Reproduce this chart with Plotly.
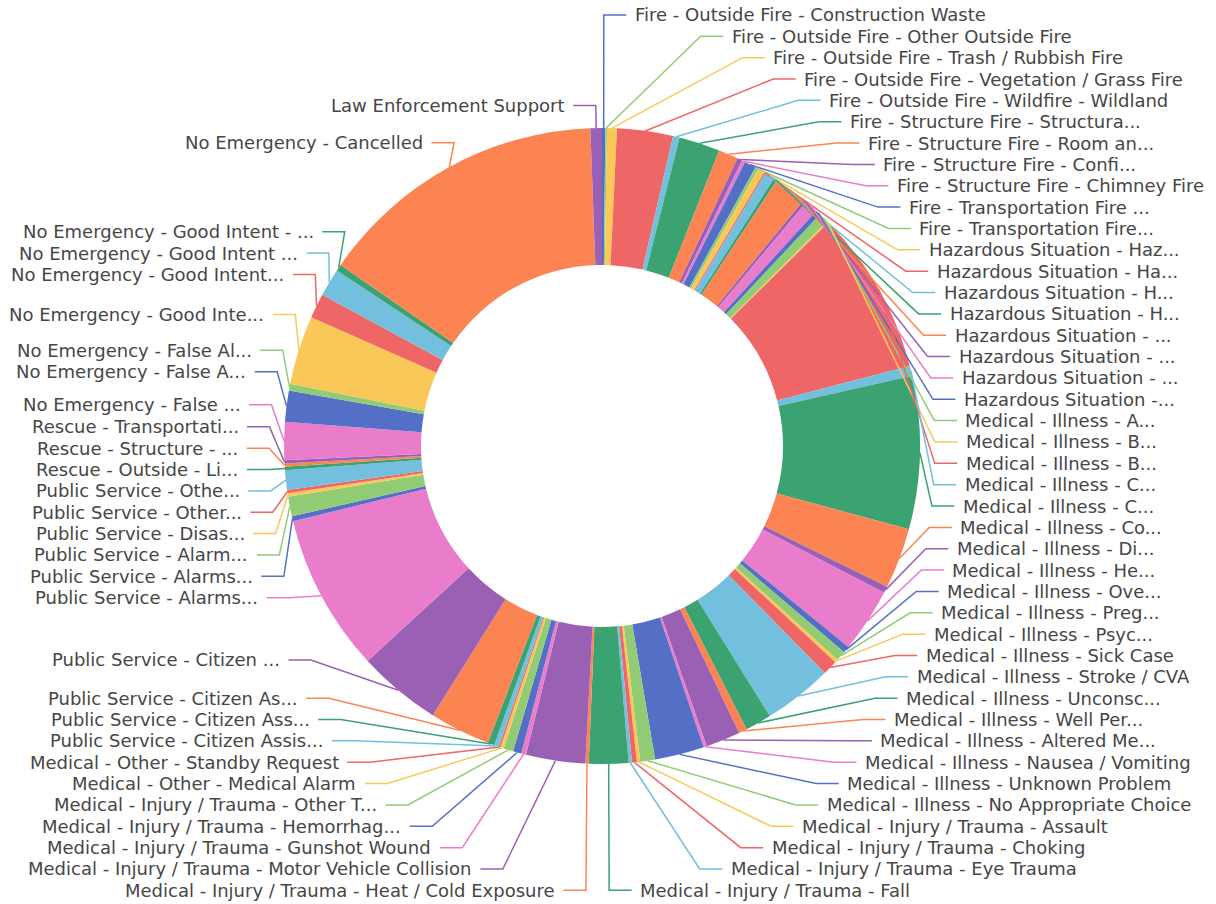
import math
import plotly.graph_objects as go

# ---------------- data (clockwise from 12 o'clock) ----------------
categories = [
    "Fire - Outside Fire - Construction Waste",
    "Fire - Outside Fire - Other Outside Fire",
    "Fire - Outside Fire - Trash / Rubbish Fire",
    "Fire - Outside Fire - Vegetation / Grass Fire",
    "Fire - Outside Fire - Wildfire - Wildland",
    "Fire - Structure Fire - Structura...",
    "Fire - Structure Fire - Room an...",
    "Fire - Structure Fire - Confi...",
    "Fire - Structure Fire - Chimney Fire",
    "Fire - Transportation Fire ...",
    "Fire - Transportation Fire...",
    "Hazardous Situation - Haz...",
    "Hazardous Situation - Ha...",
    "Hazardous Situation - H...",
    "Hazardous Situation - H...",
    "Hazardous Situation - ...",
    "Hazardous Situation - ...",
    "Hazardous Situation - ...",
    "Hazardous Situation -...",
    "Medical - Illness - A...",
    "Medical - Illness - B...",
    "Medical - Illness - B...",
    "Medical - Illness - C...",
    "Medical - Illness - C...",
    "Medical - Illness - Co...",
    "Medical - Illness - Di...",
    "Medical - Illness - He...",
    "Medical - Illness - Ove...",
    "Medical - Illness - Preg...",
    "Medical - Illness - Psyc...",
    "Medical - Illness - Sick Case",
    "Medical - Illness - Stroke / CVA",
    "Medical - Illness - Unconsc...",
    "Medical - Illness - Well Per...",
    "Medical - Illness - Altered Me...",
    "Medical - Illness - Nausea / Vomiting",
    "Medical - Illness - Unknown Problem",
    "Medical - Illness - No Appropriate Choice",
    "Medical - Injury / Trauma - Assault",
    "Medical - Injury / Trauma - Choking",
    "Medical - Injury / Trauma - Eye Trauma",
    "Medical - Injury / Trauma - Fall",
    "Medical - Injury / Trauma - Heat / Cold Exposure",
    "Medical - Injury / Trauma - Motor Vehicle Collision",
    "Medical - Injury / Trauma - Gunshot Wound",
    "Medical - Injury / Trauma - Hemorrhag...",
    "Medical - Injury / Trauma - Other T...",
    "Medical - Other - Medical Alarm",
    "Medical - Other - Standby Request",
    "Public Service - Citizen Assis...",
    "Public Service - Citizen Ass...",
    "Public Service - Citizen As...",
    "Public Service - Citizen ...",
    "Public Service - Alarms...",
    "Public Service - Alarms...",
    "Public Service - Alarm...",
    "Public Service - Disas...",
    "Public Service - Other...",
    "Public Service - Othe...",
    "Rescue - Outside - Li...",
    "Rescue - Structure - ...",
    "Rescue - Transportati...",
    "No Emergency - False ...",
    "No Emergency - False A...",
    "No Emergency - False Al...",
    "No Emergency - Good Inte...",
    "No Emergency - Good Intent...",
    "No Emergency - Good Intent ...",
    "No Emergency - Good Intent - ...",
    "No Emergency - Cancelled",
    "Law Enforcement Support",
]

counts = [
    2, 1, 6, 34, 4, 25, 12, 3, 2, 7,
    2, 4, 1, 6, 2, 20, 2, 8, 3, 6,
    1, 100, 6, 93, 37, 4, 39, 4, 6, 2,
    9, 42, 16, 5, 21, 2, 30, 9, 2, 3,
    2, 24, 2, 36, 3, 5, 6, 2, 1, 3,
    4, 37, 51, 96, 3, 12, 2, 2, 12, 2,
    2, 2, 23, 19, 4, 42, 15, 17, 4, 177,
    7,
]

palette = ['#5470c6', '#91cc75', '#fac858', '#ee6666', '#73c0de',
           '#3ba272', '#fc8452', '#9a60b4', '#ea7ccc']

# ---------------- geometry / style ----------------
W, H = 1216, 904
CX, CY, R, R_IN = 602, 446, 318, 181
LEN1, LEN2, LABEL_DIST, LABEL_H = 22.5, 22.5, 7.5, 21.35
TOP_BOUND, BOTTOM_BOUND = 4, 901
FONT = dict(family="DejaVu Sans", size=18, color="#464646")

colors = [palette[i % len(palette)] for i in range(len(counts))]

# ---------------- label layout (leader lines) ----------------
total = float(sum(counts))
items = []
acc = 0.0
for i, v in enumerate(counts):
    mid = (acc + v / 2.0) / total * 2 * math.pi
    acc += v
    dx, dy = math.sin(mid), -math.cos(mid)
    x1, y1 = CX + R * dx, CY + R * dy
    x2, y2 = x1 + dx * LEN1, y1 + dy * LEN1
    d = -1 if dx < 0 else 1
    x3 = x2 + d * LEN2
    items.append(dict(i=i, x1=x1, y1=y1, lx=x3 + d * LABEL_DIST, ly=y2,
                      dir=d, ry=y2 - LABEL_H / 2))


def shift_layout(lst, min_bound, max_bound):
    n = len(lst)
    if n < 2:
        return False
    lst.sort(key=lambda it: it['ry'])
    st = {'adj': False}
    last = 0
    for it in lst:
        delta = it['ry'] - last
        if delta < 0:
            it['ry'] -= delta
            it['ly'] -= delta
            st['adj'] = True
        last = it['ry'] + LABEL_H

    def shift_list(delta, s, e):
        if delta != 0:
            st['adj'] = True
        for k in range(s, e):
            lst[k]['ry'] += delta
            lst[k]['ly'] += delta

    def gaps():
        return lst[0]['ry'] - min_bound, max_bound - lst[-1]['ry'] - LABEL_H

    def squeeze(delta, maxp):
        g = [max(lst[k]['ry'] - lst[k - 1]['ry'] - LABEL_H, 0) for k in range(1, n)]
        tg = sum(g)
        if not tg:
            return
        p = min(abs(delta) / tg, maxp)
        if delta > 0:
            for k in range(n - 1):
                shift_list(g[k] * p, 0, k + 1)
        else:
            for k in range(n - 1, 0, -1):
                shift_list(-g[k - 1] * p, k, n)

    def take(this_gap, other_gap, mdir):
        if this_gap < 0:
            mv = min(other_gap, -this_gap)
            if mv > 0:
                shift_list(mv * mdir, 0, n)
                rem = mv + this_gap
                if rem < 0:
                    squeeze(-rem * mdir, 1)
            else:
                squeeze(-this_gap * mdir, 1)

    def bailout(delta):
        dd = -1 if delta < 0 else 1
        delta = abs(delta)
        mv = math.ceil(delta / (n - 1))
        for k in range(n - 1):
            if dd > 0:
                shift_list(mv, 0, k + 1)
            else:
                shift_list(-mv, n - k - 1, n)
            delta -= mv
            if delta <= 0:
                return

    mn, mx = gaps()
    if mn < 0:
        squeeze(-mn, 0.8)
    if mx < 0:
        squeeze(mx, 0.8)
    mn, mx = gaps()
    take(mn, mx, 1)
    take(mx, mn, -1)
    mn, mx = gaps()
    if mn < 0:
        bailout(-mn)
    if mx < 0:
        bailout(mx)
    return st['adj']


def recalc_x(lst):
    rA = R + LEN1
    semis = {'top': dict(lst=[], maxY=0, rB=rA), 'bot': dict(lst=[], maxY=0, rB=rA)}
    for it in lst:
        s = semis['bot'] if it['ly'] > CY else semis['top']
        dyv = abs(it['ly'] - CY)
        if dyv >= s['maxY']:
            dxv = it['lx'] - CX - LEN2 * it['dir']
            s['rB'] = math.sqrt(dyv * dyv / (1 - dxv * dxv / rA / rA)) if abs(dxv) < rA else rA
            s['maxY'] = dyv
        s['lst'].append(it)
    for s in semis.values():
        for it in s['lst']:
            dyv = abs(it['ly'] - CY)
            val = (1 - dyv * dyv / s['rB'] / s['rB']) * rA * rA
            it['lx'] = CX + (math.sqrt(max(val, 0)) + LEN2) * it['dir']


for side in (-1, 1):
    lst = [it for it in items if it['dir'] == side]
    if shift_layout(lst, TOP_BOUND, BOTTOM_BOUND):
        recalc_x(lst)


def px(x):
    return x / W


def py(y):
    return 1 - y / H


# ---------------- figure ----------------
fig = go.Figure()
fig.add_trace(go.Pie(
    values=counts,
    labels=[str(i) for i in range(len(counts))],
    hovertext=categories,
    hoverinfo="text+value+percent",
    marker=dict(colors=colors, line=dict(width=0)),
    hole=R_IN / R,
    sort=False,
    direction="clockwise",
    rotation=0,
    textinfo="none",
    showlegend=False,
    domain=dict(x=[(CX - R) / W, (CX + R) / W],
                y=[1 - (CY + R) / H, 1 - (CY - R) / H]),
))

shapes = []
annotations = []
for it in sorted(items, key=lambda t: t['i']):
    d = it['dir']
    x3 = it['lx'] - d * LABEL_DIST
    x2 = x3 - d * LEN2
    y = it['ly']
    path = "M {:.5f} {:.5f} L {:.5f} {:.5f} L {:.5f} {:.5f}".format(
        px(it['x1']), py(it['y1']), px(x2), py(y), px(x3), py(y))
    shapes.append(dict(type="path", path=path, xref="paper", yref="paper",
                       line=dict(color=colors[it['i']], width=1.5), layer="above"))
    annotations.append(dict(
        x=px(it['lx']), y=py(y), xref="paper", yref="paper",
        text=categories[it['i']], showarrow=False,
        xanchor="left" if d > 0 else "right", yanchor="middle",
        font=FONT, borderpad=0,
    ))

fig.update_layout(
    width=W, height=H, autosize=False,
    margin=dict(l=0, r=0, t=0, b=0),
    paper_bgcolor="white", plot_bgcolor="white",
    shapes=shapes, annotations=annotations,
    showlegend=False,
)

fig.write_html("out.html")
